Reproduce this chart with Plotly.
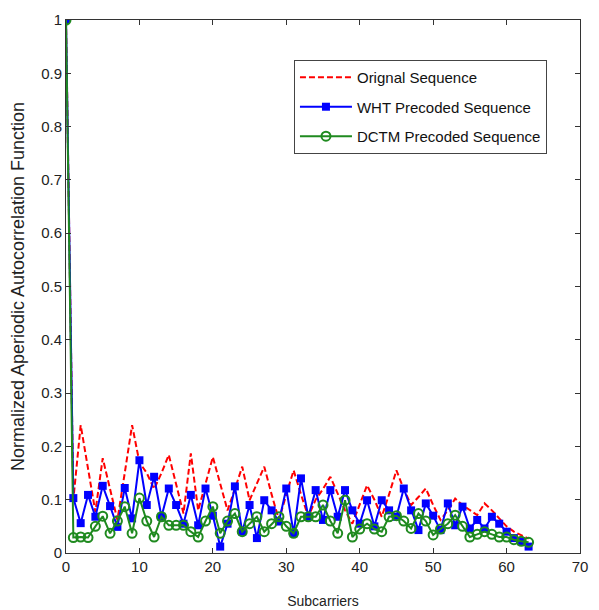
import plotly.graph_objects as go

subcarriers = list(range(64))

original_seq = [1.0, 0.10, 0.24, 0.16, 0.077, 0.178, 0.12, 0.062, 0.15, 0.24,
                0.17, 0.15, 0.12, 0.15, 0.184, 0.13, 0.074, 0.187, 0.08, 0.13,
                0.18, 0.13, 0.08, 0.12, 0.162, 0.099, 0.13, 0.162, 0.11, 0.062,
                0.11, 0.155, 0.11, 0.068, 0.10, 0.12, 0.143, 0.11, 0.08, 0.055,
                0.09, 0.127, 0.10, 0.068, 0.11, 0.155, 0.12, 0.09, 0.105, 0.121,
                0.09, 0.062, 0.08, 0.102, 0.09, 0.08, 0.071, 0.093, 0.08, 0.065,
                0.05, 0.04, 0.033, 0.027]

wht_seq = [1.0, 0.103, 0.056, 0.109, 0.068, 0.126, 0.088, 0.049, 0.122, 0.065,
           0.174, 0.09, 0.143, 0.068, 0.121, 0.09, 0.055, 0.109, 0.052, 0.121,
           0.07, 0.012, 0.055, 0.125, 0.04, 0.09, 0.028, 0.099, 0.08, 0.059,
           0.121, 0.037, 0.14, 0.068, 0.118, 0.062, 0.118, 0.068, 0.118, 0.08,
           0.055, 0.099, 0.05, 0.099, 0.08, 0.068, 0.121, 0.08, 0.043, 0.093,
           0.07, 0.043, 0.093, 0.052, 0.087, 0.046, 0.062, 0.046, 0.068, 0.055,
           0.04, 0.028, 0.022, 0.012]

dctm_seq = [1.0, 0.029, 0.03, 0.029, 0.05, 0.069, 0.037, 0.06, 0.087, 0.037,
            0.103, 0.06, 0.03, 0.068, 0.052, 0.052, 0.052, 0.04, 0.03, 0.06,
            0.087, 0.037, 0.06, 0.074, 0.04, 0.055, 0.068, 0.04, 0.055, 0.068,
            0.05, 0.037, 0.068, 0.068, 0.068, 0.09, 0.06, 0.037, 0.099, 0.03,
            0.045, 0.055, 0.045, 0.04, 0.068, 0.07, 0.06, 0.046, 0.074, 0.06,
            0.034, 0.045, 0.055, 0.071, 0.05, 0.03, 0.035, 0.04, 0.035, 0.03,
            0.03, 0.025, 0.022, 0.02]

x_ticks = [0, 10, 20, 30, 40, 50, 60, 70]
y_ticks = [0, 0.1, 0.2, 0.3, 0.4, 0.5, 0.6, 0.7, 0.8, 0.9, 1]
y_tick_labels = ["0", "0.1", "0.2", "0.3", "0.4", "0.5", "0.6", "0.7", "0.8", "0.9", "1"]

FONT = "Liberation Sans"

fig = go.Figure()
fig.add_trace(go.Scatter(
    x=subcarriers, y=original_seq, mode="lines", name="Orignal Sequence",
    legendgroup="a",
    line=dict(color="#ff0000", width=2, dash="6px,3px")))
fig.add_trace(go.Scatter(
    x=subcarriers, y=wht_seq, mode="lines+markers", name="WHT Precoded Sequence",
    legendgroup="b",
    line=dict(color="#0000ff", width=2),
    marker=dict(symbol="square", size=8, color="#0000ff")))
fig.add_trace(go.Scatter(
    x=subcarriers, y=dctm_seq, mode="lines+markers", name="DCTM Precoded Sequence",
    legendgroup="c",
    line=dict(color="#1f8a1f", width=2),
    marker=dict(symbol="circle-open", size=9, color="#1f8a1f", line=dict(width=2))))

axis_common = dict(
    showline=True, linecolor="#333333", linewidth=1, mirror="ticks",
    ticks="inside", ticklen=5, tickcolor="#333333", showgrid=False, zeroline=False,
    tickfont=dict(family=FONT, size=15, color="#222222"),
)

fig.update_xaxes(range=[0, 70], tickvals=x_ticks,
                 title=dict(text="Subcarriers", font=dict(family=FONT, size=14, color="#222222"), standoff=22),
                 **axis_common)
fig.update_yaxes(range=[0, 1], tickvals=y_ticks, ticktext=y_tick_labels,
                 title=dict(text="Normalized Aperiodic Autocorrelation Function",
                            font=dict(family=FONT, size=18, color="#222222"), standoff=12),
                 **axis_common)

fig.update_layout(
    width=599, height=610,
    margin=dict(l=58, r=27, t=12, b=65, autoexpand=False),
    paper_bgcolor="white", plot_bgcolor="white",
    showlegend=True,
    legend=dict(x=0.4435, y=0.925, xanchor="left", yanchor="top",
                bordercolor="#444444", borderwidth=1, bgcolor="white",
                font=dict(family=FONT, size=15, color="#111111"),
                tracegroupgap=7, itemwidth=52),
)

fig.write_html("out.html")
